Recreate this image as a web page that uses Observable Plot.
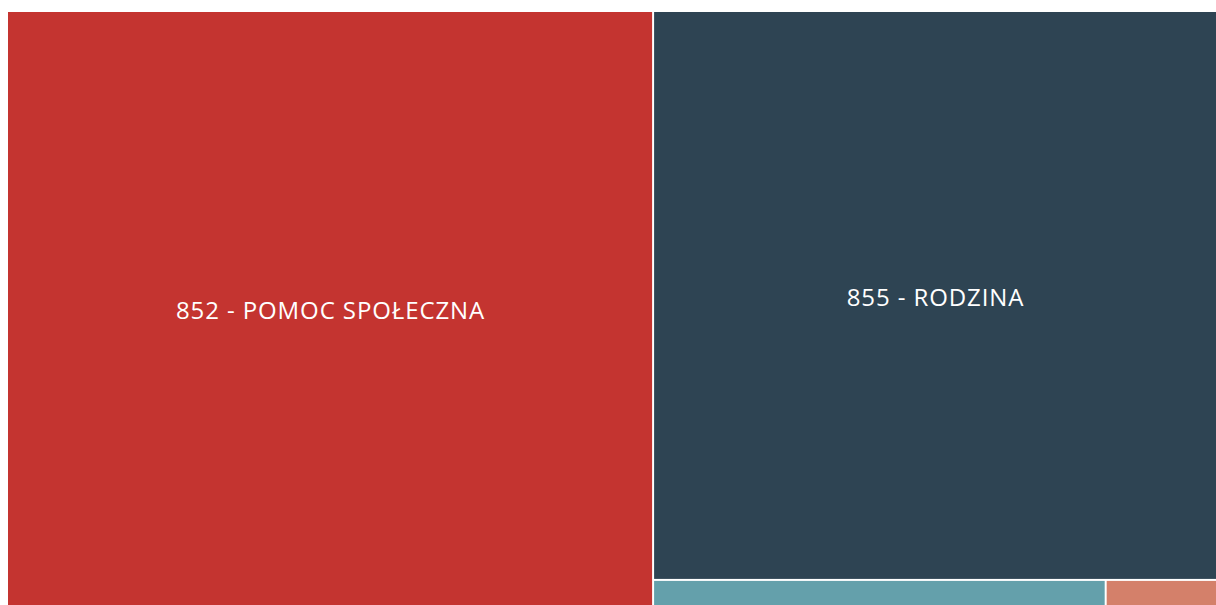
<!DOCTYPE html>
<html>
<head>
<meta charset="utf-8">
<script src="https://cdn.jsdelivr.net/npm/d3@7"></script>
<script src="https://cdn.jsdelivr.net/npm/@observablehq/plot@0.6"></script>
<style>
  html, body { margin: 0; padding: 0; background: #ffffff; overflow: hidden; }
  #chart svg { display: block; }
  #chart svg text { letter-spacing: 0.9px; }
</style>
</head>
<body>
<div id="chart"></div>
<script>
// Data (budget sections)
const categories = [
  "852 - POMOC SPOŁECZNA",
  "855 - RODZINA",
  "853 - POZOSTAŁE ZADANIA W ZAKRESIE POLITYKI SPOŁECZNEJ",
  "854 - EDUKACYJNA OPIEKA WYCHOWAWCZA"
];
const values = [382.5, 319.2, 11.75, 2.89];
const colors = ["#c43430", "#2e4453", "#64a0ab", "#d4806a"];

const W = 1216, H = 605;

const root = d3.hierarchy({children: categories.map((name, i) => ({name, value: values[i]}))})
  .sum(d => d.value || 0)
  .sort((a, b) => b.value - a.value);

d3.treemap()
  .tile(d3.treemapSquarify)
  .size([W, H])
  .paddingTop(12)
  .paddingLeft(8)
  .paddingInner(2)(root);

const leaves = root.leaves().map(n => ({
  name: n.data.name, value: n.value,
  x0: n.x0, x1: n.x1, y0: n.y0, y1: n.y1,
  cx: (n.x0 + n.x1) / 2, cy: (n.y0 + n.y1) / 2,
  big: (n.y1 - n.y0) > 60
}));

const chart = Plot.plot({
  width: W,
  height: H,
  margin: 0,
  x: {type: "identity", axis: null},
  y: {type: "identity", axis: null},
  color: {domain: categories, range: colors},
  style: {background: "#ffffff"},
  marks: [
    Plot.rect(leaves, {x1: "x0", x2: "x1", y1: "y0", y2: "y1", fill: "name"}),
    Plot.text(leaves.filter(d => d.big), {
      x: "cx", y: "cy", dy: 2, text: "name",
      fill: "#ffffff", fontSize: 24, fontWeight: 500,
      fontFamily: "'Open Sans', 'Noto Sans', sans-serif"
    })
  ]
});
document.getElementById("chart").appendChild(chart);
</script>
</body>
</html>
